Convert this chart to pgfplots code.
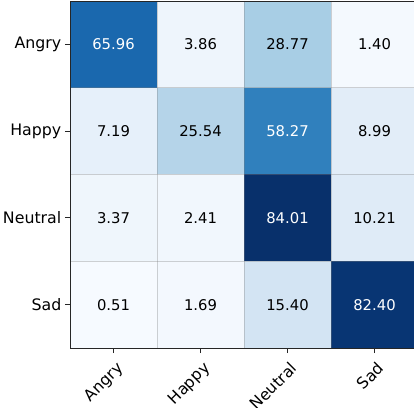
\documentclass[border=0pt]{standalone}
\usepackage{pgfplots}
\pgfplotsset{compat=1.18}
\usepackage{fontspec}
\setmainfont{DejaVu Sans}
\begin{document}
\begin{tikzpicture}
\begin{axis}[
  name=ax,
  scale only axis,
  width=348pt, height=347pt,
  xmin=-0.5, xmax=3.5, ymin=-0.5, ymax=3.5,
  y dir=reverse,
  enlargelimits=false,
  colormap={blues}{rgb255=(247,251,255) rgb255=(222,235,247) rgb255=(198,219,239) rgb255=(158,202,225) rgb255=(107,174,214) rgb255=(66,146,198) rgb255=(33,113,181) rgb255=(8,81,156) rgb255=(8,48,107)},
  point meta min=0, point meta max=84.01,
  xtick={0,1,2,3}, ytick={0,1,2,3},
  xticklabels={Angry,Happy,Neutral,Sad},
  yticklabels={Angry,Happy,Neutral,Sad},
  minor xtick={0.5,1.5,2.5}, minor ytick={0.5,1.5,2.5},
  minor tick length=0pt,
  minor grid style={draw=gray, opacity=0.35, line width=0.9pt},
  xminorgrids, yminorgrids,
  major tick length=5pt,
  tick align=outside,
  xtick pos=bottom, ytick pos=left,
  every tick/.style={black!85, line width=0.8pt},
  axis line style={draw=none},
  axis on top,
  ticklabel style={font=\fontsize{15.8}{18}\selectfont},
  x tick label style={xshift=2pt, yshift=-5pt, rotate=45, anchor=north east, inner sep=2pt},
  y tick label style={xshift=-1.5pt, inner sep=2pt},
]
\addplot[matrix plot*, mesh/cols=4, point meta=explicit,
  visualization depends on={value \thisrow{c} \as \cval},
  nodes near coords={\ifdim\cval pt>42pt\color{white}\fi\cval},
  every node near coord/.style={anchor=center, font=\fontsize{14.8}{17}\selectfont, black},
] table [x=x, y=y, meta=c] {
x y c
0 0 65.96
1 0 3.86
2 0 28.77
3 0 1.40
0 1 7.19
1 1 25.54
2 1 58.27
3 1 8.99
0 2 3.37
1 2 2.41
2 2 84.01
3 2 10.21
0 3 0.51
1 3 1.69
2 3 15.40
3 3 82.40
};
\end{axis}
\draw[black!85, line width=0.9pt, line cap=rect] (ax.south east) -- (ax.south west) -- (ax.north west) -- (ax.north east);
\pgfresetboundingbox
\path[use as bounding box] ([xshift=-70pt,yshift=-60pt]ax.south west) rectangle ([xshift=344pt,yshift=1pt]ax.north west);
\end{tikzpicture}
\end{document}
